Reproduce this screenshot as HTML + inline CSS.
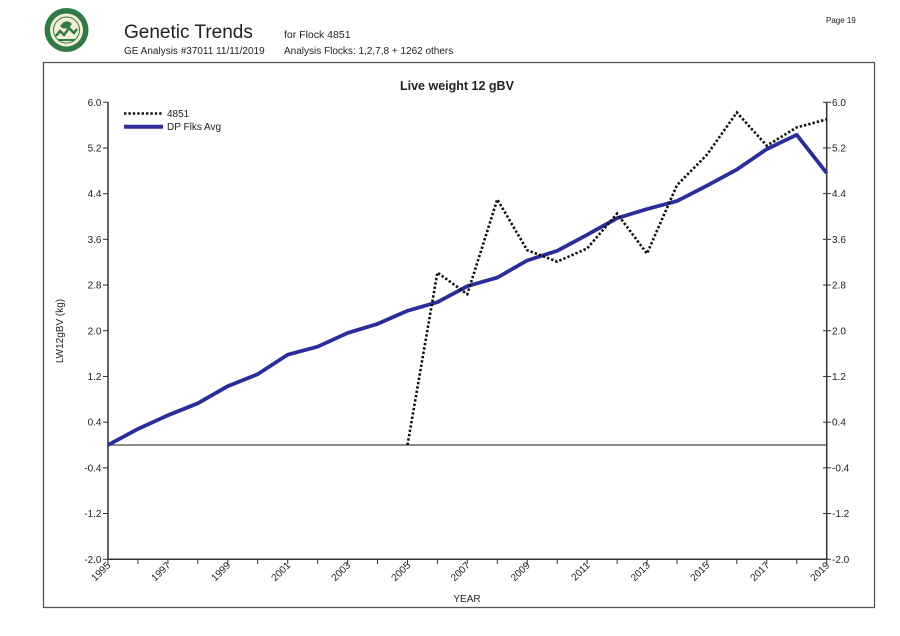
<!DOCTYPE html>
<html>
<head>
<meta charset="utf-8">
<style>
  html,body{margin:0;padding:0;background:#fff;}
  body{width:900px;height:636px;overflow:hidden;font-family:"Liberation Sans",Arial,sans-serif;}
  svg{display:block;}
  text{font-family:"Liberation Sans",Arial,sans-serif;fill:#222;}
</style>
</head>
<body>
<svg width="900" height="636" viewBox="0 0 900 636" xmlns="http://www.w3.org/2000/svg">
  <!-- Logo -->
  <g>
    <circle cx="66.5" cy="30" r="22" fill="#2f7a48"/>
    <circle cx="66.5" cy="30" r="16.5" fill="#f3efd6"/>
    <circle cx="66.5" cy="30" r="13" fill="none" stroke="#2f7a48" stroke-width="1"/>
    <path d="M56 36 L60 31 L64 35 L69 28 L74 33 L77 29" fill="none" stroke="#2f7a48" stroke-width="2.5"/>
    <path d="M60 26 Q66 18 72 24 Q68 30 62 28 Z" fill="#2f7a48"/>
    <rect x="58" y="39" width="17" height="2" fill="#2f7a48"/>
  </g>

  <!-- Header text -->
  <text x="124" y="38" font-size="19" fill="#222">Genetic Trends</text>
  <text x="284" y="38" font-size="10.5">for Flock 4851</text>
  <text x="124" y="54" font-size="10">GE Analysis #37011 11/11/2019</text>
  <text x="284" y="54" font-size="10">Analysis Flocks: 1,2,7,8 + 1262 others</text>
  <text x="826" y="23" font-size="8" fill="#444">Page 19</text>

  <!-- Outer frame -->
  <rect x="43.5" y="62.5" width="831" height="545" fill="none" stroke="#555" stroke-width="1.3"/>

  <!-- Chart title -->
  <text x="400" y="90" font-size="12.5" font-weight="bold">Live weight 12 gBV</text>

  <!-- Zero line -->
  <line x1="108" y1="445" x2="827" y2="445" stroke="#444" stroke-width="1.2"/>

  <!-- Axes -->
  <line x1="108" y1="102" x2="108" y2="559.5" stroke="#333" stroke-width="1.5"/>
  <line x1="826.7" y1="102" x2="826.7" y2="559.5" stroke="#333" stroke-width="1.5"/>
  <line x1="107.3" y1="559.3" x2="827.4" y2="559.3" stroke="#333" stroke-width="1.5"/>

  <!-- Y ticks left -->
  <g stroke="#333" stroke-width="1">
    <line x1="103" y1="102.25" x2="108" y2="102.25"/>
    <line x1="103" y1="147.95" x2="108" y2="147.95"/>
    <line x1="103" y1="193.65" x2="108" y2="193.65"/>
    <line x1="103" y1="239.35" x2="108" y2="239.35"/>
    <line x1="103" y1="285.05" x2="108" y2="285.05"/>
    <line x1="103" y1="330.75" x2="108" y2="330.75"/>
    <line x1="103" y1="376.45" x2="108" y2="376.45"/>
    <line x1="103" y1="422.15" x2="108" y2="422.15"/>
    <line x1="103" y1="467.85" x2="108" y2="467.85"/>
    <line x1="103" y1="513.55" x2="108" y2="513.55"/>
    <line x1="103" y1="559.25" x2="108" y2="559.25"/>
  </g>
  <!-- Y ticks right -->
  <g stroke="#333" stroke-width="1">
    <line x1="823" y1="102.25" x2="831" y2="102.25"/>
    <line x1="823" y1="147.95" x2="831" y2="147.95"/>
    <line x1="823" y1="193.65" x2="831" y2="193.65"/>
    <line x1="823" y1="239.35" x2="831" y2="239.35"/>
    <line x1="823" y1="285.05" x2="831" y2="285.05"/>
    <line x1="823" y1="330.75" x2="831" y2="330.75"/>
    <line x1="823" y1="376.45" x2="831" y2="376.45"/>
    <line x1="823" y1="422.15" x2="831" y2="422.15"/>
    <line x1="823" y1="467.85" x2="831" y2="467.85"/>
    <line x1="823" y1="513.55" x2="831" y2="513.55"/>
    <line x1="823" y1="559.25" x2="831" y2="559.25"/>
  </g>

  <!-- Y labels left -->
  <g font-size="10" text-anchor="end">
    <text x="101.5" y="106">6.0</text>
    <text x="101.5" y="151.5">5.2</text>
    <text x="101.5" y="197.2">4.4</text>
    <text x="101.5" y="242.9">3.6</text>
    <text x="101.5" y="288.6">2.8</text>
    <text x="101.5" y="334.3">2.0</text>
    <text x="101.5" y="380">1.2</text>
    <text x="101.5" y="425.7">0.4</text>
    <text x="101.5" y="471.4">-0.4</text>
    <text x="101.5" y="517.1">-1.2</text>
    <text x="101.5" y="562.8">-2.0</text>
  </g>
  <!-- Y labels right -->
  <g font-size="10" text-anchor="start">
    <text x="832" y="106">6.0</text>
    <text x="832" y="151.5">5.2</text>
    <text x="832" y="197.2">4.4</text>
    <text x="832" y="242.9">3.6</text>
    <text x="832" y="288.6">2.8</text>
    <text x="832" y="334.3">2.0</text>
    <text x="832" y="380">1.2</text>
    <text x="832" y="425.7">0.4</text>
    <text x="832" y="471.4">-0.4</text>
    <text x="832" y="517.1">-1.2</text>
    <text x="832" y="562.8">-2.0</text>
  </g>

  <!-- X ticks -->
  <g stroke="#333" stroke-width="1">
    <line x1="108" y1="559" x2="108" y2="564"/>
    <line x1="137.9" y1="559" x2="137.9" y2="564"/>
    <line x1="167.9" y1="559" x2="167.9" y2="564"/>
    <line x1="197.8" y1="559" x2="197.8" y2="564"/>
    <line x1="227.8" y1="559" x2="227.8" y2="564"/>
    <line x1="257.7" y1="559" x2="257.7" y2="564"/>
    <line x1="287.7" y1="559" x2="287.7" y2="564"/>
    <line x1="317.6" y1="559" x2="317.6" y2="564"/>
    <line x1="347.6" y1="559" x2="347.6" y2="564"/>
    <line x1="377.5" y1="559" x2="377.5" y2="564"/>
    <line x1="407.5" y1="559" x2="407.5" y2="564"/>
    <line x1="437.4" y1="559" x2="437.4" y2="564"/>
    <line x1="467.3" y1="559" x2="467.3" y2="564"/>
    <line x1="497.3" y1="559" x2="497.3" y2="564"/>
    <line x1="527.2" y1="559" x2="527.2" y2="564"/>
    <line x1="557.2" y1="559" x2="557.2" y2="564"/>
    <line x1="587.1" y1="559" x2="587.1" y2="564"/>
    <line x1="617.1" y1="559" x2="617.1" y2="564"/>
    <line x1="647" y1="559" x2="647" y2="564"/>
    <line x1="677" y1="559" x2="677" y2="564"/>
    <line x1="706.9" y1="559" x2="706.9" y2="564"/>
    <line x1="736.8" y1="559" x2="736.8" y2="564"/>
    <line x1="766.8" y1="559" x2="766.8" y2="564"/>
    <line x1="796.7" y1="559" x2="796.7" y2="564"/>
    <line x1="826.7" y1="559" x2="826.7" y2="564"/>
  </g>

  <!-- X labels (rotated) -->
  <g font-size="10" text-anchor="end">
    <text transform="translate(111,566) rotate(-45)">1995</text>
    <text transform="translate(171,566) rotate(-45)">1997</text>
    <text transform="translate(231,566) rotate(-45)">1999</text>
    <text transform="translate(291,566) rotate(-45)">2001</text>
    <text transform="translate(351,566) rotate(-45)">2003</text>
    <text transform="translate(411,566) rotate(-45)">2005</text>
    <text transform="translate(470.5,566) rotate(-45)">2007</text>
    <text transform="translate(530.5,566) rotate(-45)">2009</text>
    <text transform="translate(590.5,566) rotate(-45)">2011</text>
    <text transform="translate(650.5,566) rotate(-45)">2013</text>
    <text transform="translate(710,566) rotate(-45)">2015</text>
    <text transform="translate(770,566) rotate(-45)">2017</text>
    <text transform="translate(830,566) rotate(-45)">2019</text>
  </g>

  <!-- Axis titles -->
  <text x="467" y="602" font-size="10" text-anchor="middle">YEAR</text>
  <text transform="translate(63,331) rotate(-90)" font-size="10" text-anchor="middle">LW12gBV (kg)</text>

  <!-- Legend -->
  <line x1="124" y1="113.5" x2="163" y2="113.5" stroke="#111" stroke-width="2.6" stroke-dasharray="2.4 2"/>
  <text x="167" y="117" font-size="10">4851</text>
  <line x1="124" y1="126.7" x2="163" y2="126.7" stroke="#2b2e98" stroke-width="4"/>
  <text x="167" y="130" font-size="10">DP Flks Avg</text>

  <!-- DP Flks Avg series -->
  <polyline fill="none" stroke="#2b2e98" stroke-width="3.8" stroke-linejoin="round"
    points="108,445 137.9,429 167.9,415.3 197.8,403.3 227.8,386.2 257.7,374.2 287.7,354.7 317.6,346.7 347.6,333 377.5,323.9 407.5,310.8 437.4,302.2 467.3,286.2 497.3,277.6 527.2,260.5 557.2,250.8 587.1,234.8 617.1,218.2 647,209.1 677,201.1 706.9,185.7 736.8,169.6 766.8,149.1 796.7,134.8 826.7,173.1"/>

  <!-- 4851 series (dotted) -->
  <polyline fill="none" stroke="#111" stroke-width="2.6" stroke-dasharray="2.4 2"
    points="407.5,445 437.4,272.5 467.3,294.2 497.3,199.4 527.2,250.2 557.2,261.6 587.1,248.5 617.1,213.6 647,253.6 677,185.1 706.9,154.8 736.8,112.5 766.8,145.7 796.7,127.4 826.7,119.4"/>
</svg>
</body>
</html>
